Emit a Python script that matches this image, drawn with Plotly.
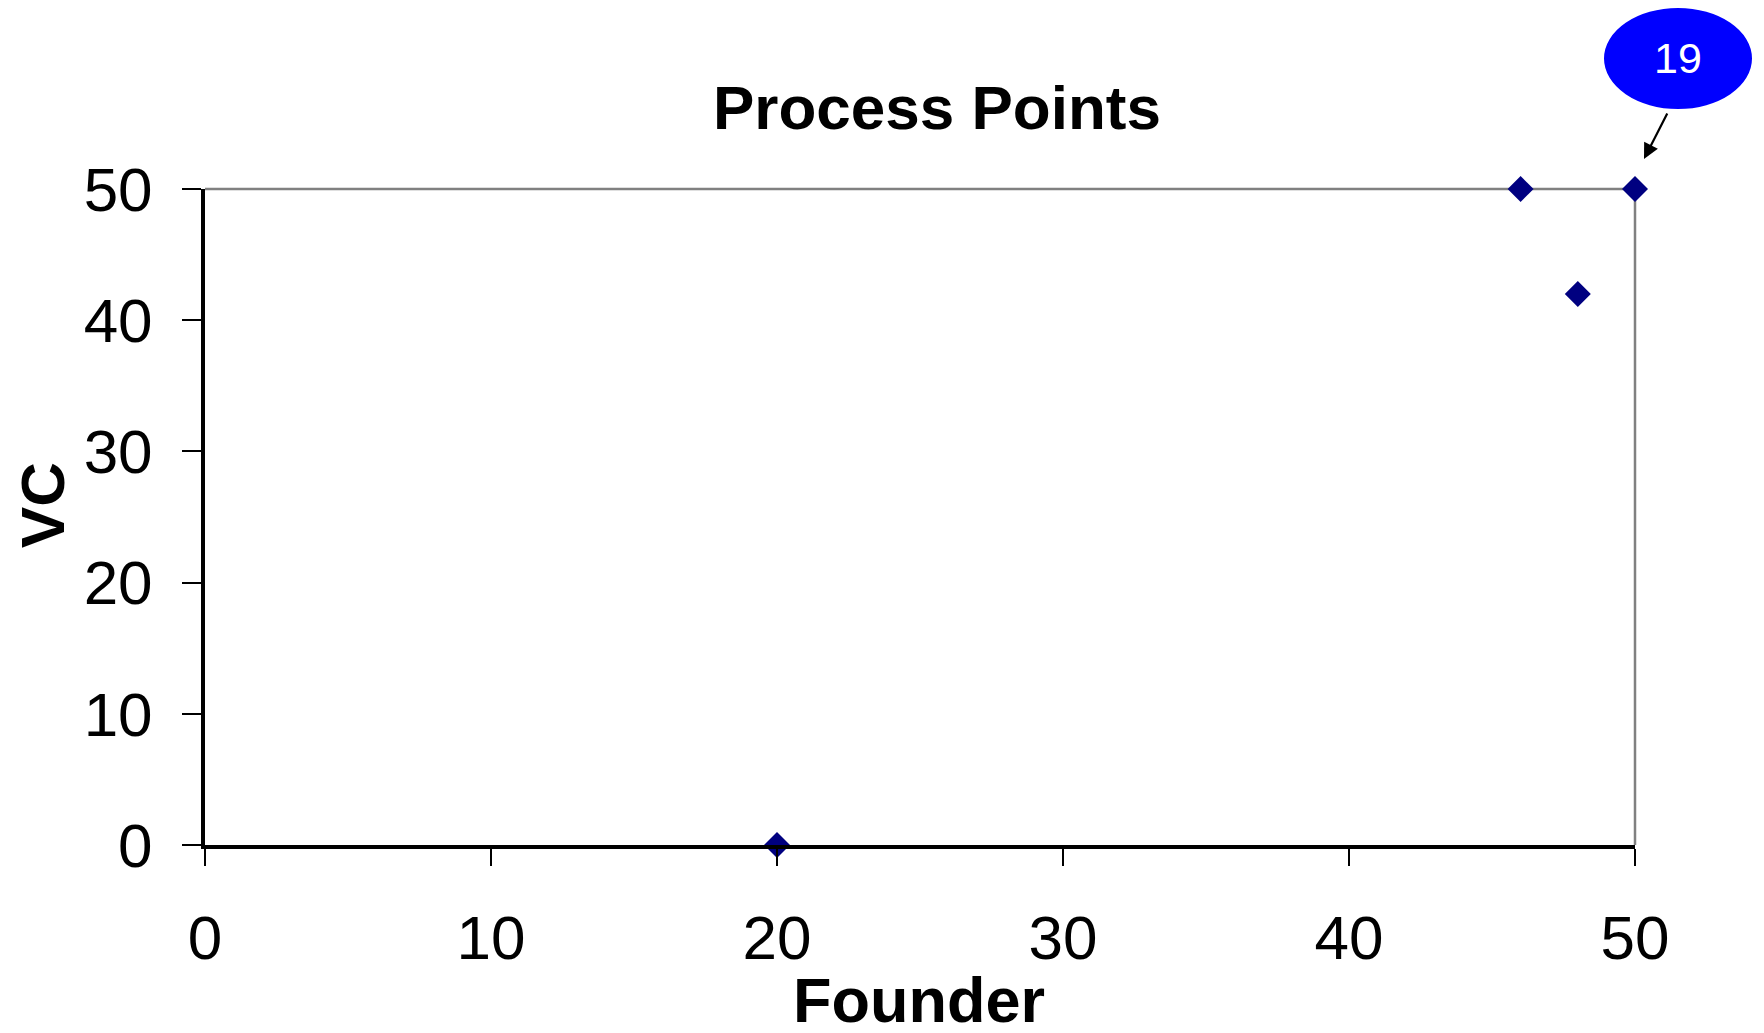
import plotly.graph_objects as go

# Data
founder = [20, 46, 48, 50]
vc = [0, 50, 42, 50]
x_ticks = [0, 10, 20, 30, 40, 50]
y_ticks = [0, 10, 20, 30, 40, 50]
callout_label = "19"
callout_point = (50, 50)

X_RANGE = [0, 50]
Y_RANGE = [0, 50]

FONT = "Arial, Liberation Sans, sans-serif"

OFF = 8  # page body margin
W, H = 1764, 1033
ML, MT = 205 - OFF, 189 - OFF
PW, PH = 1430, 656
MR = W - ML - PW
MB = H - MT - PH

fig = go.Figure()
fig.add_trace(go.Scatter(
    x=founder, y=vc, mode="markers",
    marker=dict(symbol="diamond", size=20, color="#000080",
                line=dict(width=0)),
    cliponaxis=False, showlegend=False,
))

# callout anchored on the labelled point
cx, cy = callout_point
fx = (cx - X_RANGE[0]) / (X_RANGE[1] - X_RANGE[0])
fy = (cy - Y_RANGE[0]) / (Y_RANGE[1] - Y_RANGE[0])
ell_x0 = fx + (-31) / PW
ell_x1 = fx + (117) / PW
ell_y0 = fy + (80) / PH
ell_y1 = fy + (181) / PH

shapes = [
    dict(type="line", xref="paper", yref="paper", x0=0, x1=1, y0=1, y1=1,
         line=dict(color="#808080", width=2.5), layer="below"),
    dict(type="line", xref="paper", yref="paper", x0=1, x1=1, y0=0, y1=1,
         line=dict(color="#808080", width=2.5), layer="below"),
    dict(type="circle", xref="paper", yref="paper",
         x0=ell_x0, x1=ell_x1, y0=ell_y0, y1=ell_y1,
         fillcolor="#0000FF", line=dict(width=0), layer="above"),
]

annotations = [
    dict(x=(ell_x0 + ell_x1) / 2, y=(ell_y0 + ell_y1) / 2, xref="paper", yref="paper",
         text=callout_label, showarrow=False, xanchor="center", yanchor="middle",
         font=dict(family=FONT, size=43, color="white")),
    dict(x=cx, y=cy, xref="x", yref="y", xshift=9, yshift=30,
         text="", showarrow=True, ax=24, ay=-47, axref="pixel", ayref="pixel",
         arrowhead=2, arrowsize=1.4, arrowwidth=2.2, arrowcolor="black", standoff=0),
    dict(x=-0.114, y=0.518, xref="paper", yref="paper", text="<b>VC</b>",
         textangle=-90, showarrow=False, xanchor="center", yanchor="middle",
         font=dict(family=FONT, size=62, color="black")),
    dict(x=0.4993, y=-0.236, xref="paper", yref="paper", text="<b>Founder</b>",
         showarrow=False, xanchor="center", yanchor="middle",
         font=dict(family=FONT, size=63, color="black")),
]

fig.update_layout(
    width=W, height=H,
    margin=dict(l=ML, r=MR, t=MT, b=MB, pad=0),
    paper_bgcolor="white", plot_bgcolor="white",
    title=dict(text="<b>Process Points</b>", x=(937 - OFF) / W, xanchor="center",
               y=1 - (107 - OFF) / H, yanchor="middle",
               font=dict(family=FONT, size=62, color="black")),
    shapes=shapes, annotations=annotations,
    xaxis=dict(range=X_RANGE, tickvals=x_ticks, ticktext=[str(v) for v in x_ticks],
               showgrid=False, zeroline=False, showline=True, linecolor="black",
               linewidth=4, ticks="outside", ticklen=17, tickwidth=2, tickcolor="black",
               ticklabelstandoff=19,
               tickfont=dict(family=FONT, size=62, color="black"), fixedrange=True),
    yaxis=dict(range=Y_RANGE, tickvals=y_ticks, ticktext=[str(v) for v in y_ticks],
               showgrid=False, zeroline=False, showline=True, linecolor="black",
               linewidth=4, ticks="outside", ticklen=19, tickwidth=2, tickcolor="black",
               ticklabelstandoff=17,
               tickfont=dict(family=FONT, size=62, color="black"), fixedrange=True),
)

fig.write_html("out.html")
